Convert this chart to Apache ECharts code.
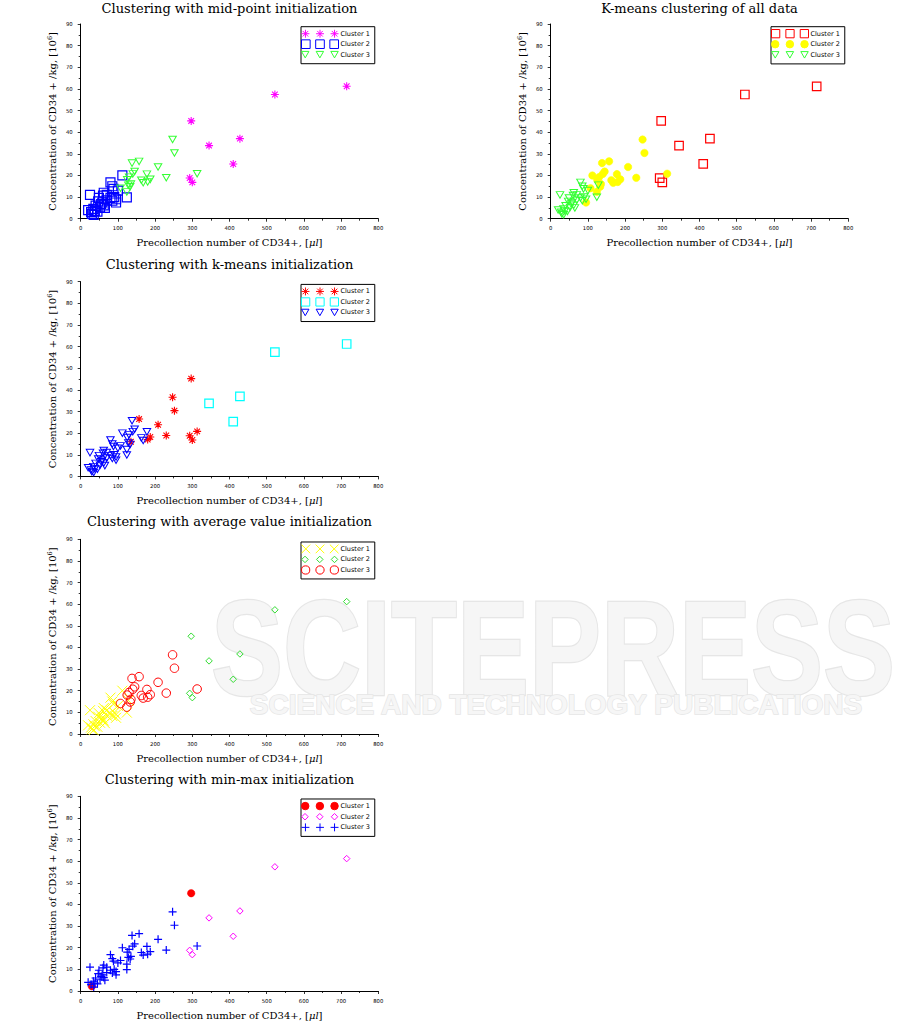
<!DOCTYPE html>
<html><head><meta charset="utf-8">
<script src="https://cdn.jsdelivr.net/npm/echarts@6/dist/echarts.min.js"></script>
<style>html,body{margin:0;padding:0;background:#fff}#c{width:901px;height:1027px}</style>
</head><body><div id="c"></div><script>
// ---------------- data ----------------
const points = [
 [715,61.2],[522,57.4],[297,45.2],[428,37.0],[345,33.8],[410,25.3],[293,18.8],[300,16.8],
 [247,36.6],[252,30.4],[157,26.5],[138,25.7],[208,23.9],[145,21.8],[140,20.7],[313,20.8],
 [178,20.6],[112,20.0],[130,19.2],[230,18.9],[187,18.2],[125,18.0],[163,17.8],[180,17.0],
 [168,16.6],[135,16.0],[133,14.8],[107,14.1],[124,12.4],[95,7.5],
 [124,9.9],[128,15.5],[80,16.8],[85,15.0],[88,13.8],[100,13.0],[25,11.0],[62,12.0],
 [60,10.7],[90,10.0],[80,9.6],[49,9.6],[70,8.5],[47,8.0],[85,8.3],[55,6.8],[62,6.2],
 [40,6.0],[52,5.2],[34,4.5],[65,5.0],[20,4.0],[38,3.6],[28,3.0],[45,3.3],[30,2.2],
 [35,1.8],[58,7.5],[70,11.0],[95,9.0]
];
const labelsMidPoint = [
 1,1,1,1,1,1,1,1,3,3, 3,3,3,3,3,3,3,2,3,3, 3,3,3,3,3,3,3,3,3,2,
 2,3,2,2,2,2,2,2,2,2, 2,2,2,2,2,2,2,2,2,2, 2,2,2,2,2,2,2,2,2,2
];
const labelsKMeansAll = [
 1,1,1,1,1,1,1,1,2,2, 2,2,2,2,2,2,2,2,2,2, 2,2,2,2,2,2,2,2,2,2,
 3,3,3,3,3,3,3,3,3,3, 3,3,3,3,3,3,3,3,3,3, 3,3,3,3,3,3,3,3,3,3
];
const labelsKMeansInit = [
 2,2,1,2,2,2,1,1,1,1, 1,3,1,3,3,1,3,3,3,1, 1,3,3,1,3,1,3,3,3,3,
 3,3,3,3,3,3,3,3,3,3, 3,3,3,3,3,3,3,3,3,3, 3,3,3,3,3,3,3,3,3,3
];
const labelsAverage = [
 2,2,2,2,2,2,2,2,3,3, 3,3,3,3,3,3,3,1,3,3, 3,3,3,3,3,3,3,3,3,1,
 1,1,1,1,1,1,1,1,1,1, 1,1,1,1,1,1,1,1,1,1, 1,1,1,1,1,1,1,1,1,1
];
const labelsMinMax = [
 2,2,1,2,2,2,2,2,3,3, 3,3,3,3,3,3,3,3,3,3, 3,3,3,3,3,3,3,3,3,3,
 3,3,3,3,3,3,3,3,3,3, 3,3,3,3,3,3,3,3,3,3, 3,3,3,3,3,1,3,3,3,3
];
const xTicks = [0,100,200,300,400,500,600,700,800];
const yTicks = [0,10,20,30,40,50,60,70,80,90];
const clusterNames = ['Cluster 1','Cluster 2','Cluster 3'];
const titles = [
 'Clustering with mid-point initialization',
 'K-means clustering of all data',
 'Clustering with k-means initialization',
 'Clustering with average value initialization',
 'Clustering with min-max initialization'
];
const xAxisName = 'Precollection number of CD34+, [{it|μl}]';
const yAxisName = 'Concentration of CD34 + /kg, [10{sup|6}]';

// ---------------- layout / style ----------------
const PW = 297.6, PH = 194.7;
const panels = [
 {labels: labelsMidPoint, left: 80.7, top: 24, titleY: 8, markers: [
   {shape:'star', color:'#ff00ff', size:8, lw:1.1},
   {shape:'rect', color:'#0000ff', size:9, lw:1.2},
   {shape:'tri', color:'#33ff33', size:7.5, lw:1}]},
 {labels: labelsKMeansAll, left: 550.7, top: 24, titleY: 8, markers: [
   {shape:'rect', color:'#ff0000', size:8.5, lw:1.2},
   {shape:'circle', color:'#ffff00', size:7.5, filled:true},
   {shape:'tri', color:'#33ff33', size:7.5, lw:1}]},
 {labels: labelsKMeansInit, left: 80.7, top: 281.7, titleY: 264, markers: [
   {shape:'star', color:'#ff0000', size:8, lw:1.1},
   {shape:'rect', color:'#00ffff', size:8.5, lw:1.2},
   {shape:'tri', color:'#0000ff', size:7.5, lw:1}]},
 {labels: labelsAverage, left: 80.7, top: 539.3, titleY: 521.7, markers: [
   {shape:'cross', color:'#ffff00', size:10, lw:1},
   {shape:'diamond', color:'#33dd33', size:6.5, lw:1},
   {shape:'circle', color:'#ff0000', size:8.5, lw:1}]},
 {labels: labelsMinMax, left: 80.7, top: 796.3, titleY: 779, markers: [
   {shape:'circle', color:'#ff0000', size:7.5, filled:true},
   {shape:'diamond', color:'#ff00ff', size:6.5, lw:1},
   {shape:'plus', color:'#0000ff', size:8, lw:1.2}]}
];

function shapePath(shape, cx, cy, r) {
  const f = v => +v.toFixed(3);
  const p = (x, y) => f(cx + x * r) + ',' + f(cy + y * r);
  const k = 0.7071;
  switch (shape) {
    case 'star': return 'M'+p(0,-1)+'L'+p(0,1)+'M'+p(-1,0)+'L'+p(1,0)+'M'+p(-k,-k)+'L'+p(k,k)+'M'+p(-k,k)+'L'+p(k,-k);
    case 'rect': return 'M'+p(-1,-1)+'L'+p(1,-1)+'L'+p(1,1)+'L'+p(-1,1)+'Z';
    case 'tri': return 'M'+p(-1,-0.87)+'L'+p(1,-0.87)+'L'+p(0,0.87)+'Z';
    case 'circle': return 'M'+p(-1,0)+'A'+f(r)+','+f(r)+',0,1,0,'+p(1,0)+'A'+f(r)+','+f(r)+',0,1,0,'+p(-1,0)+'Z';
    case 'diamond': return 'M'+p(0,-1)+'L'+p(1,0)+'L'+p(0,1)+'L'+p(-1,0)+'Z';
    case 'cross': return 'M'+p(-1,-1)+'L'+p(1,1)+'M'+p(-1,1)+'L'+p(1,-1);
    case 'plus': return 'M'+p(0,-1)+'L'+p(0,1)+'M'+p(-1,0)+'L'+p(1,0);
  }
}
const LW = 37, LH = 10;
function legendIcon(m) {
  const r = Math.min(m.size, 9) / 2;
  // zero-length corner segments fix the icon's bounding box to LW x LH
  let d = 'M0,0L0,0M' + LW + ',' + LH + 'L' + LW + ',' + LH;
  [3.5, 18.25, 33].forEach(cx => { d += shapePath(m.shape, cx, LH / 2, r); });
  return 'path://' + d;
}

const axisFontTick = {fontFamily: 'DejaVu Sans', fontSize: 5.3, color: '#000'};
const nameFont = {fontFamily: 'DejaVu Serif', fontSize: 10, color: '#000'};

const option = {
  animation: false,
  backgroundColor: '#fff',
  grid: [], xAxis: [], yAxis: [], legend: [], series: [], graphic: []
};

// watermark
option.graphic.push(
  {type: 'text', x: 553, y: 648, z: -10, silent: true, scaleY: 1.25,
   style: {text: 'SCITEPRESS', fontFamily: 'Liberation Sans', fontWeight: 'bold', fontSize: 108,
           fill: '#f6f6f6', stroke: '#e6e6e6', lineWidth: 2, align: 'center', verticalAlign: 'middle'}},
  {type: 'text', x: 556, y: 704, z: -10, silent: true,
   style: {text: 'SCIENCE AND TECHNOLOGY PUBLICATIONS', fontFamily: 'Liberation Sans', fontWeight: 'bold', fontSize: 28,
           fill: '#f6f6f6', stroke: '#e6e6e6', lineWidth: 1.5, align: 'center', verticalAlign: 'middle'}}
);

panels.forEach((pn, i) => {
  option.grid.push({left: pn.left, top: pn.top, width: PW, height: PH, outerBoundsMode: 'none', containLabel: false});
  option.xAxis.push({
    gridIndex: i, type: 'value', min: xTicks[0], max: xTicks[xTicks.length - 1], interval: xTicks[1] - xTicks[0],
    axisLine: {show: true, onZero: false, lineStyle: {color: '#000', width: 1}},
    axisTick: {show: true, inside: false, length: 3, lineStyle: {color: '#000', width: 0.8}},
    minorTick: {show: true, splitNumber: 2, length: 2, lineStyle: {color: '#000', width: 0.8}},
    splitLine: {show: false}, minorSplitLine: {show: false},
    axisLabel: Object.assign({margin: 7}, axisFontTick),
    name: xAxisName, nameLocation: 'middle', nameGap: 19, nameMoveOverlap: false,
    nameTextStyle: Object.assign({rich: {it: Object.assign({fontStyle: 'italic'}, nameFont)}}, nameFont)
  });
  option.yAxis.push({
    gridIndex: i, type: 'value', min: yTicks[0], max: yTicks[yTicks.length - 1], interval: yTicks[1] - yTicks[0],
    axisLine: {show: true, onZero: false, lineStyle: {color: '#000', width: 1}},
    axisTick: {show: true, inside: false, length: 3, lineStyle: {color: '#000', width: 0.8}},
    minorTick: {show: true, splitNumber: 2, length: 2, lineStyle: {color: '#000', width: 0.8}},
    splitLine: {show: false}, minorSplitLine: {show: false},
    axisLabel: Object.assign({margin: 8}, axisFontTick),
    name: yAxisName, nameLocation: 'middle', nameGap: 23, nameMoveOverlap: false,
    nameTextStyle: Object.assign({rich: {sup: {fontFamily: 'DejaVu Serif', fontSize: 6.5, color: '#000', verticalAlign: 'top', padding: [0, 0, 4, 0]}}}, nameFont)
  });
  const names = clusterNames.map(c => titles[i] + '|' + c);
  pn.markers.forEach((m, c) => {
    const sym = m.shape === 'circle' ? 'circle' : 'path://' + shapePath(m.shape, 0, 0, 1);
    const size = m.shape === 'tri' ? [m.size, m.size * 0.87] : m.size;
    option.series.push({
      type: 'scatter', name: names[c], xAxisIndex: i, yAxisIndex: i,
      data: points.filter((_, k) => pn.labels[k] === c + 1),
      symbol: sym, symbolSize: size, silent: true,
      itemStyle: m.filled
        ? {color: m.color, borderColor: m.color, borderWidth: 0.5, opacity: 1}
        : {color: 'rgba(0,0,0,0)', borderColor: m.color, borderWidth: m.lw, opacity: 1},
      emphasis: {disabled: true}
    });
  });
  option.legend.push({
    left: pn.left + 220.3, top: pn.top + 2.7, orient: 'vertical', selectedMode: false,
    data: names.map((n, c) => ({name: n, icon: legendIcon(pn.markers[c])})),
    formatter: n => n.split('|')[1],
    itemWidth: LW, itemHeight: LH, itemGap: -0.3, padding: [1.6, 5, 3.6, 0],
    borderColor: '#000', borderWidth: 1, backgroundColor: '#fff', borderRadius: 0,
    itemStyle: {borderWidth: 1},
    textStyle: {fontFamily: 'DejaVu Sans', fontSize: 6.5, color: '#000', padding: [0, 0, 0, -3]}
  });
  option.graphic.push({type: 'text', x: pn.left + PW / 2, y: pn.titleY, silent: true,
    style: {text: titles[i], fontFamily: 'DejaVu Serif', fontSize: 13, fill: '#000', align: 'center', verticalAlign: 'middle'}});
});

const chart = echarts.init(document.getElementById('c'), null, {renderer: 'svg'});
chart.setOption(option);
</script></body></html>
